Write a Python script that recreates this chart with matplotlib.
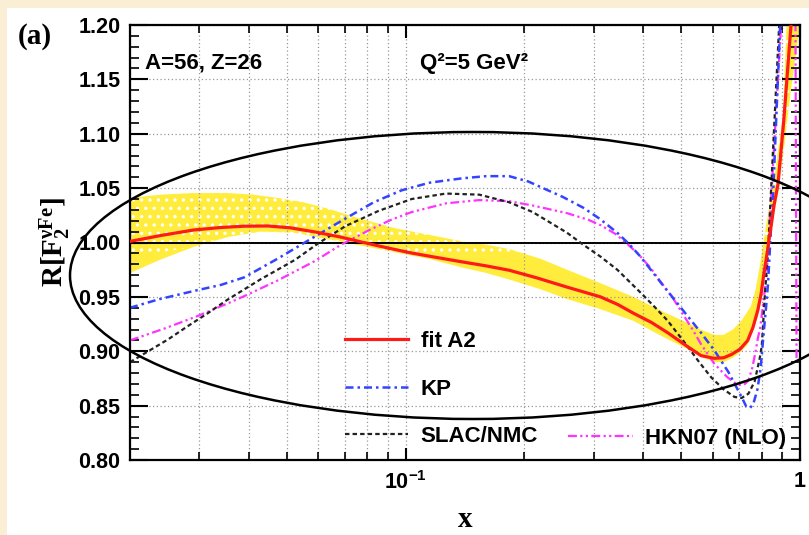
import matplotlib
matplotlib.use("Agg")
import matplotlib.pyplot as plt
import numpy as np
from matplotlib.patches import Ellipse, Rectangle
from matplotlib.ticker import LogLocator, MultipleLocator, FormatStrFormatter, NullFormatter, FixedLocator

# values (x, R)
x_fit = [0.02, 0.024, 0.029, 0.034, 0.039, 0.0447, 0.051, 0.0589, 0.068, 0.0772, 0.09, 0.1036, 0.12,
         0.139, 0.16, 0.183, 0.215, 0.2565, 0.312, 0.345, 0.378, 0.42, 0.462, 0.52, 0.561, 0.606, 0.64,
         0.67, 0.705, 0.737, 0.76, 0.782, 0.797, 0.809, 0.822, 0.834, 0.847, 0.859, 0.879, 0.91, 0.948, 0.96]
r_fit = [1.001, 1.0065, 1.0115, 1.0138, 1.015, 1.0152, 1.0135, 1.0097, 1.0052, 1.0005, 0.995, 0.9903, 0.9862,
         0.9822, 0.9785, 0.9745, 0.9675, 0.959, 0.950, 0.943, 0.935, 0.9265, 0.917, 0.904, 0.896, 0.8935, 0.894,
         0.897, 0.902, 0.910, 0.922, 0.938, 0.953, 0.970, 0.986, 1.002, 1.018, 1.034, 1.053, 1.113, 1.198, 1.22]

x_band_hi = [0.02, 0.024, 0.029, 0.0354, 0.041, 0.0474, 0.055, 0.0637, 0.075, 0.0943, 0.115, 0.139, 0.16,
             0.183, 0.22, 0.2565, 0.31, 0.378, 0.44, 0.5185, 0.56, 0.606, 0.64, 0.676, 0.71, 0.75, 0.772,
             0.793, 0.81, 0.83, 0.859, 0.905, 0.924, 0.94]
r_band_hi = [1.041, 1.044, 1.0455, 1.0455, 1.044, 1.041, 1.037, 1.031, 1.023, 1.013, 1.007, 1.001, 0.998,
             0.994, 0.985, 0.975, 0.963, 0.950, 0.938, 0.926, 0.920, 0.915, 0.915, 0.920, 0.928, 0.941, 0.957,
             0.981, 1.003, 1.027, 1.057, 1.117, 1.198, 1.25]
x_band_lo = [0.02, 0.0238, 0.029, 0.0354, 0.0429, 0.0521, 0.0637, 0.075, 0.0853, 0.1, 0.1145, 0.139, 0.16,
             0.183, 0.22, 0.2565, 0.31, 0.378, 0.44, 0.5185, 0.56, 0.606, 0.64, 0.676, 0.705, 0.737, 0.782,
             0.809, 0.834, 0.859, 0.879, 0.91, 0.948, 0.9977]
r_band_lo = [0.972, 0.984, 0.996, 1.005, 1.010, 1.009, 1.003, 0.998, 0.994, 0.989, 0.985, 0.977, 0.972,
             0.966, 0.957, 0.948, 0.939, 0.928, 0.915, 0.902, 0.895, 0.890, 0.890, 0.894, 0.899, 0.906, 0.932,
             0.962, 0.993, 1.025, 1.044, 1.085, 1.140, 1.198]

x_kp = [0.02, 0.0238, 0.0295, 0.034, 0.039, 0.0473, 0.0555, 0.0703, 0.083, 0.0977, 0.115, 0.139, 0.16, 0.183,
        0.205, 0.223, 0.25, 0.282, 0.31, 0.344, 0.37, 0.394, 0.444, 0.499, 0.561, 0.606, 0.658, 0.711, 0.731,
        0.748, 0.762, 0.78, 0.795, 0.809, 0.82, 0.83, 0.843, 0.851, 0.89, 0.90]
r_kp = [0.940, 0.948, 0.956, 0.961, 0.968, 0.985, 1.000, 1.022, 1.037, 1.048, 1.055, 1.059, 1.061, 1.061,
        1.056, 1.050, 1.042, 1.032, 1.022, 1.009, 0.998, 0.987, 0.963, 0.940, 0.917, 0.901, 0.881, 0.858, 0.849,
        0.848, 0.852, 0.865, 0.885, 0.917, 0.940, 0.963, 1.009, 1.028, 1.198, 1.25]

x_slac = [0.02, 0.0211, 0.025, 0.028, 0.0315, 0.0352, 0.0428, 0.0524, 0.0599, 0.0703, 0.0853, 0.1036, 0.1265,
          0.1537, 0.183, 0.21, 0.2565, 0.282, 0.312, 0.344, 0.394, 0.43, 0.462, 0.49, 0.52, 0.555, 0.5955,
          0.64, 0.682, 0.711, 0.74, 0.767, 0.79, 0.80, 0.814, 0.83, 0.885, 0.90]
r_slac = [0.890, 0.895, 0.911, 0.923, 0.935, 0.947, 0.966, 0.984, 0.999, 1.015, 1.029, 1.040, 1.045,
          1.044, 1.037, 1.028, 1.009, 0.998, 0.987, 0.975, 0.954, 0.940, 0.928, 0.916, 0.904, 0.890, 0.876,
          0.865, 0.858, 0.857, 0.861, 0.872, 0.893, 0.905, 0.950, 0.993, 1.198, 1.25]

x_hkn = [0.02, 0.0245, 0.0295, 0.0354, 0.0397, 0.0473, 0.0589, 0.0686, 0.0804, 0.092, 0.1036, 0.1265, 0.1537,
         0.183, 0.21, 0.2565, 0.29, 0.312, 0.34, 0.364, 0.39, 0.417, 0.445, 0.476, 0.505, 0.536, 0.56, 0.582,
         0.605, 0.627, 0.655, 0.695, 0.72, 0.74, 0.757, 0.77, 0.782, 0.793, 0.823, 0.895, 0.93, 0.972, 0.980]
r_hkn = [0.910, 0.921, 0.932, 0.944, 0.952, 0.965, 0.983, 0.998, 1.011, 1.021, 1.028, 1.036, 1.039,
         1.038, 1.034, 1.027, 1.021, 1.016, 1.008, 0.999, 0.989, 0.977, 0.963, 0.949, 0.934, 0.919, 0.907, 0.898,
         0.889, 0.883, 0.876, 0.869, 0.869, 0.873, 0.885, 0.898, 0.912, 0.922, 0.970, 1.198, 1.30, 1.30, 0.893]

DOT_FLOOR = 0.991   # lower limit of the dotted part of the band

W, H = 809, 535
plt.rcParams.update({"font.family": "Liberation Sans", "font.weight": "bold", "hatch.linewidth": 1.2,
                     "mathtext.fontset": "custom", "mathtext.rm": "Liberation Sans:bold",
                     "mathtext.bf": "Liberation Serif:bold", "mathtext.it": "Liberation Serif:bold"})
fig = plt.figure(figsize=(W / 100, H / 100), dpi=100, facecolor="#FAEED4")
fig.add_artist(Rectangle((7 / W, 0), 1, 1 - 8 / H, transform=fig.transFigure,
                         fc="white", ec="none", zorder=-10))

ax = fig.add_axes([130 / W, 1 - 460 / H, 670 / W, 435 / H])
ax.set_facecolor("white")

xb = np.array(x_band_hi); yb = np.array(r_band_hi)
ylo = np.interp(np.log(xb), np.log(x_band_lo), r_band_lo)
ax.fill(list(x_band_hi) + x_band_lo[::-1], list(r_band_hi) + r_band_lo[::-1],
        color="#FFEC3D", lw=0, zorder=1)
ax.fill_between(xb, np.maximum(ylo, DOT_FLOOR), yb, where=yb > DOT_FLOOR, facecolor="none",
                edgecolor="white", hatch="..", lw=0, zorder=1.1, interpolate=True)

ax.axhline(1.0, color="black", lw=1.4, zorder=1.8)
l_fit, = ax.plot(x_fit, r_fit, color="#FF1A1A", lw=2.3, zorder=3)
l_kp, = ax.plot(x_kp, r_kp, color="#3344FF", lw=1.8, ls=(0, (3.2, 1.6, 1, 1.6)), zorder=2.5)
l_slac, = ax.plot(x_slac, r_slac, color="#222222", lw=1.6, ls=(0, (2, 1.4)), zorder=2.4)
l_hkn, = ax.plot(x_hkn, r_hkn, color="#FF33FF", lw=1.6, ls=(0, (4, 1.5, 1, 1.5, 1, 1.5)), zorder=2.3)

ax.set_xscale("log")
ax.set_xlim(0.02, 1.0)
ax.set_ylim(0.80, 1.20)
ax.xaxis.set_major_locator(FixedLocator([0.1, 1.0]))
ax.set_xticklabels([r"$\mathrm{10^{-1}}$", "1"])
ax.xaxis.set_minor_locator(LogLocator(base=10, subs=np.arange(2, 10)))
ax.xaxis.set_minor_formatter(NullFormatter())
ax.yaxis.set_major_locator(MultipleLocator(0.05))
ax.yaxis.set_minor_locator(MultipleLocator(0.01))
ax.yaxis.set_major_formatter(FormatStrFormatter("%.2f"))
ax.tick_params(which="both", direction="in", top=True, right=True, labelsize=15.5)
ax.tick_params(axis="y", which="major", length=13, width=1.5, pad=7)
ax.tick_params(axis="y", which="minor", length=6.5, width=1.2)
ax.tick_params(axis="x", which="major", length=9, width=1.5, pad=8)
ax.tick_params(axis="x", which="minor", length=6, width=1.2)
for s in ax.spines.values():
    s.set_linewidth(1.6)
gkw = dict(color="#999999", lw=0.9, ls=(0, (1, 2)))
ax.grid(True, which="major", axis="y", **gkw)
ax.grid(True, which="both", axis="x", **gkw)

ax.set_xlabel(r"$\mathbf{x}$", fontsize=21, labelpad=8)
ax.set_ylabel(r"$\mathbf{R[F_2^{\nu Fe}]}$", fontsize=21, labelpad=4)

ax.text(0.022, 0.899, "A=56, Z=26", transform=ax.transAxes, fontsize=16, va="baseline")
ax.text(0.433, 0.899, "Q²=5 GeV²", transform=ax.transAxes, fontsize=16, va="baseline")

lkw = dict(frameon=False, fontsize=16, handletextpad=0.55, borderpad=0, borderaxespad=0)
leg1 = ax.legend([l_fit, l_kp, l_slac], ["fit A2", "KP", "SLAC/NMC"], loc="center left",
                 bbox_to_anchor=(0.321, 0.163), handlelength=2.85, labelspacing=1.2, **lkw)
ax.add_artist(leg1)
ax.legend([l_hkn], ["HKN07 (NLO)"], loc="center left", bbox_to_anchor=(0.654, 0.05),
          handlelength=2.9, **lkw)

fig.text(18 / W, 1 - 37 / H, "(a)", family="Liberation Serif", weight="bold", fontsize=21, va="center")
fig.add_artist(Ellipse((473 / W, 1 - 275.5 / H), 806 / W, 287 / H, transform=fig.transFigure,
                       fill=False, ec="black", lw=1.8, clip_on=False, zorder=10))

fig.savefig("out.png", dpi=100, facecolor=fig.get_facecolor())
